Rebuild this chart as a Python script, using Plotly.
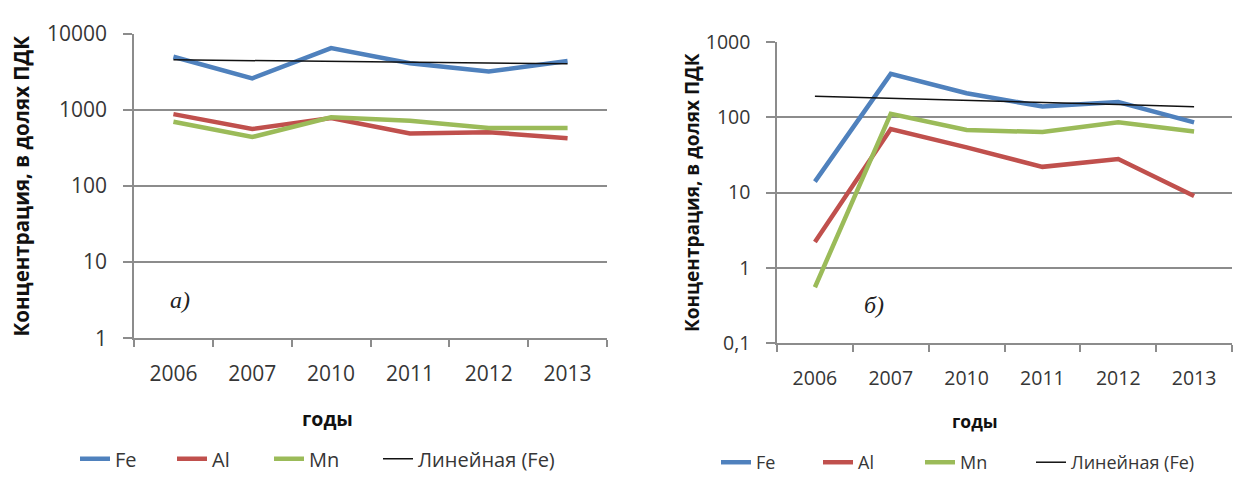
import numpy as np
import plotly.graph_objects as go

# Categories (years) and concentrations, in multiples of the MPC
years = ["2006", "2007", "2010", "2011", "2012", "2013"]

fe_a = [5000, 2600, 6500, 4100, 3200, 4400]
al_a = [880, 560, 780, 490, 510, 425]
mn_a = [700, 440, 800, 720, 580, 580]

fe_b = [14, 380, 210, 140, 160, 86]
al_b = [2.2, 70, 40, 22, 28, 9]
mn_b = [0.55, 112, 68, 64, 86, 65]

ticks_a = [1, 10, 100, 1000, 10000]
ticktext_a = ["1", "10", "100", "1000", "10000"]
ticks_b = [0.1, 1, 10, 100, 1000]
ticktext_b = ["0,1", "1", "10", "100", "1000"]

y_title = "Концентрация, в долях ПДК"
x_title = "годы"
trend_name = "Линейная (Fe)"

FE_C, AL_C, MN_C = "#4F81BD", "#C0504D", "#9BBB59"
GRID = "#8c8c8c"
TXT = "#363636"
FONT = "Open Sans, Noto Sans, sans-serif"
W, H = 1235, 484


def linear_trend(vals):
    # Excel-style linear trend over the category index 1..n
    idx = np.arange(1, len(vals) + 1)
    k, b = np.polyfit(idx, np.asarray(vals, float), 1)
    return (k * idx + b).tolist()


fig = go.Figure()


def add_panel(fe, al, mn, xa, ya, leg, leg_trend, lw):
    for name, vals, col in (("Fe", fe, FE_C), ("Al", al, AL_C), ("Mn", mn, MN_C)):
        fig.add_trace(go.Scatter(x=years, y=vals, name=name, mode="lines",
                                 line=dict(color=col, width=lw),
                                 xaxis=xa, yaxis=ya, legend=leg))
    fig.add_trace(go.Scatter(x=years, y=linear_trend(fe), name=trend_name,
                             mode="lines", line=dict(color="#111111", width=1.5),
                             xaxis=xa, yaxis=ya, legend=leg_trend))


add_panel(fe_a, al_a, mn_a, "x", "y", "legend", "legend3", 4.5)
add_panel(fe_b, al_b, mn_b, "x2", "y2", "legend2", "legend4", 4.5)


def px_x(p):
    return p / W


def px_y(p):
    return 1 - p / H


xcommon = dict(type="category", range=[-0.5, 5.5], showgrid=False,
               showline=True, linecolor=GRID, linewidth=1.5,
               ticks="outside", tickson="boundaries", ticklen=7,
               tickcolor=GRID, tickwidth=1.5, fixedrange=True)
ycommon = dict(type="log", showgrid=True, gridcolor=GRID, gridwidth=1.5,
               showline=True, linecolor=GRID, linewidth=1.5,
               ticks="outside", ticklen=9, tickcolor=GRID, tickwidth=1.5,
               ticklabelstandoff=12, zeroline=False, fixedrange=True)


def legend_box(x, y, size, entry=None):
    d = dict(orientation="h", x=px_x(x), y=px_y(y), xanchor="left",
             yanchor="middle", font=dict(size=size, color=TXT),
             bgcolor="rgba(0,0,0,0)", itemwidth=30)
    if entry:
        d["entrywidth"] = entry
    return d


fig.update_layout(
    width=W, height=H,
    margin=dict(l=0, r=0, t=0, b=0),
    paper_bgcolor="white", plot_bgcolor="white",
    font=dict(family=FONT, color=TXT),
    xaxis=dict(xcommon, domain=[px_x(134), px_x(607)], anchor="y",
               ticklabelstandoff=16, tickfont=dict(size=21, color=TXT)),
    yaxis=dict(ycommon, domain=[px_y(343), px_y(20)], anchor="x",
               range=[0, 4], tickvals=ticks_a, ticktext=ticktext_a,
               tickfont=dict(size=21, color=TXT)),
    xaxis2=dict(xcommon, domain=[px_x(777), px_x(1232)], anchor="y2",
                ticklabelstandoff=17, tickfont=dict(size=19.5, color=TXT)),
    yaxis2=dict(ycommon, domain=[px_y(348), px_y(29)], anchor="x2",
                range=[-1, 3], tickvals=ticks_b, ticktext=ticktext_b,
                tickfont=dict(size=19.5, color=TXT)),
    legend=legend_box(75, 471, 20, 52),
    legend3=legend_box(378, 471, 20),
    legend2=legend_box(716, 475, 18, 57),
    legend4=legend_box(1031, 475, 18),
    showlegend=True,
)

# Axis titles and panel letters
ann = [
    dict(text=f"<b>{y_title}</b>", x=px_x(21), y=px_y(182), textangle=-90,
         font=dict(size=20.5, color="#111111")),
    dict(text=f"<b>{y_title}</b>", x=px_x(692), y=px_y(189), textangle=-90,
         font=dict(size=19, color="#111111")),
    dict(text=f"<b>{x_title}</b>", x=px_x(327), y=px_y(428),
         font=dict(size=19.5, color="#111111")),
    dict(text=f"<b>{x_title}</b>", x=px_x(975), y=px_y(431),
         font=dict(size=17.5, color="#111111")),
    dict(text="<i>а)</i>", x=px_x(180), y=px_y(303),
         font=dict(size=24, family="Liberation Serif, serif", color="#222222")),
    dict(text="<i>б)</i>", x=px_x(874), y=px_y(308),
         font=dict(size=24, family="Liberation Serif, serif", color="#222222")),
]
for a in ann:
    fig.add_annotation(xref="paper", yref="paper", showarrow=False,
                       xanchor="center", yanchor="middle", **a)

fig.write_html("out.html")
